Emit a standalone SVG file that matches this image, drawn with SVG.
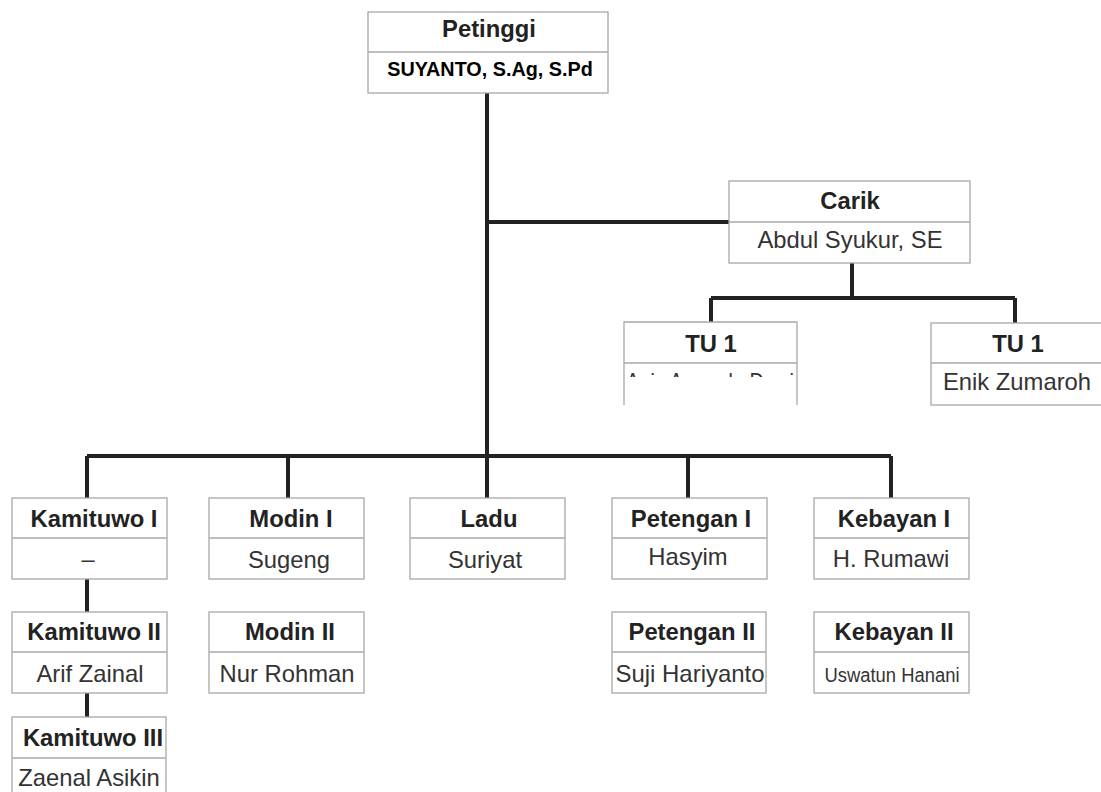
<svg xmlns="http://www.w3.org/2000/svg" width="1101" height="792" viewBox="0 0 1101 792">
<defs>
<style>
.box{fill:#fff;stroke:#a8a8a8;stroke-width:1.3}
.div{stroke:#a8a8a8;stroke-width:1.3}
.t{font-family:"Liberation Sans",Arial,sans-serif;font-weight:bold;font-size:23.8px;fill:#222;text-anchor:middle}
.n{font-family:"Liberation Sans",Arial,sans-serif;font-size:23.8px;fill:#333;text-anchor:middle}
.c{fill:none;stroke:#222;stroke-width:4}
</style>
<clipPath id="tuclip"><rect x="624" y="364" width="173" height="13"/></clipPath>
</defs>
<rect width="1101" height="792" fill="#fff"/>
<g id="connectors">
<path class="c" d="M487 93V456M487 222H729M852 263V298M711 298H1015M711 298V322M1015 298V323"/>
<path class="c" d="M87 456H891M87 456V498M288 456V498M487 456V498M688 456V498M891 456V498"/>
<path class="c" d="M87 579V612M87 693V717"/>
</g>
<g id="petinggi">
<rect class="box" x="368" y="12" width="240" height="81"/>
<line class="div" x1="368" y1="52" x2="608" y2="52"/>
<text class="t" x="489" y="37">Petinggi</text>
<text class="t" x="490" y="76" style="font-size:19.8px;fill:#000">SUYANTO, S.Ag, S.Pd</text>
</g>
<g id="carik">
<rect class="box" x="729" y="181" width="241" height="82"/>
<line class="div" x1="729" y1="222" x2="970" y2="222"/>
<text class="t" x="850" y="209">Carik</text>
<text class="n" x="850" y="248">Abdul Syukur, SE</text>
</g>
<g id="tu1-left">
<path class="div" fill="none" d="M624 405V322H797V405"/>
<line class="div" x1="624" y1="363" x2="797" y2="363"/>
<text class="t" x="711" y="352">TU 1</text>
<text class="n" x="626" y="390" style="text-anchor:start" textLength="168" lengthAdjust="spacingAndGlyphs" clip-path="url(#tuclip)">Anis Amanda Dewi</text>
</g>
<g id="tu1-right">
<rect class="box" x="931" y="323" width="180" height="82"/>
<line class="div" x1="931" y1="363" x2="1101" y2="363"/>
<text class="t" x="1018" y="352">TU 1</text>
<text class="n" x="1017" y="390">Enik Zumaroh</text>
</g>
<g id="kamituwo1">
<rect class="box" x="12" y="498" width="155" height="81"/>
<line class="div" x1="12" y1="538" x2="167" y2="538"/>
<text class="t" x="94" y="527">Kamituwo I</text>
<text class="n" x="88" y="567">–</text>
</g>
<g id="modin1">
<rect class="box" x="209" y="498" width="155" height="81"/>
<line class="div" x1="209" y1="538" x2="364" y2="538"/>
<text class="t" x="291" y="527">Modin I</text>
<text class="n" x="289" y="568">Sugeng</text>
</g>
<g id="ladu">
<rect class="box" x="410" y="498" width="155" height="81"/>
<line class="div" x1="410" y1="538" x2="565" y2="538"/>
<text class="t" x="489" y="527">Ladu</text>
<text class="n" x="485" y="568">Suriyat</text>
</g>
<g id="petengan1">
<rect class="box" x="612" y="498" width="155" height="81"/>
<line class="div" x1="612" y1="538" x2="767" y2="538"/>
<text class="t" x="691" y="527">Petengan I</text>
<text class="n" x="688" y="565">Hasyim</text>
</g>
<g id="kebayan1">
<rect class="box" x="814" y="498" width="155" height="81"/>
<line class="div" x1="814" y1="538" x2="969" y2="538"/>
<text class="t" x="894" y="527">Kebayan I</text>
<text class="n" x="891" y="567">H. Rumawi</text>
</g>
<g id="kamituwo2">
<rect class="box" x="12" y="612" width="155" height="81"/>
<line class="div" x1="12" y1="652" x2="167" y2="652"/>
<text class="t" x="94" y="640">Kamituwo II</text>
<text class="n" x="90" y="682">Arif Zainal</text>
</g>
<g id="modin2">
<rect class="box" x="209" y="612" width="155" height="81"/>
<line class="div" x1="209" y1="652" x2="364" y2="652"/>
<text class="t" x="290" y="640">Modin II</text>
<text class="n" x="287" y="682">Nur Rohman</text>
</g>
<g id="petengan2">
<rect class="box" x="612" y="612" width="154" height="81"/>
<line class="div" x1="612" y1="652" x2="766" y2="652"/>
<text class="t" x="692" y="640">Petengan II</text>
<text class="n" x="690" y="682" textLength="149" lengthAdjust="spacingAndGlyphs">Suji Hariyanto</text>
</g>
<g id="kebayan2">
<rect class="box" x="814" y="612" width="155" height="81"/>
<line class="div" x1="814" y1="652" x2="969" y2="652"/>
<text class="t" x="894" y="640">Kebayan II</text>
<text class="n" x="892" y="682" style="font-size:20px" textLength="135" lengthAdjust="spacingAndGlyphs">Uswatun Hanani</text>
</g>
<g id="kamituwo3">
<rect class="box" x="12" y="717" width="154" height="90"/>
<line class="div" x1="12" y1="758" x2="166" y2="758"/>
<text class="t" x="93" y="746">Kamituwo III</text>
<text class="n" x="89" y="786">Zaenal Asikin</text>
</g>
</svg>
